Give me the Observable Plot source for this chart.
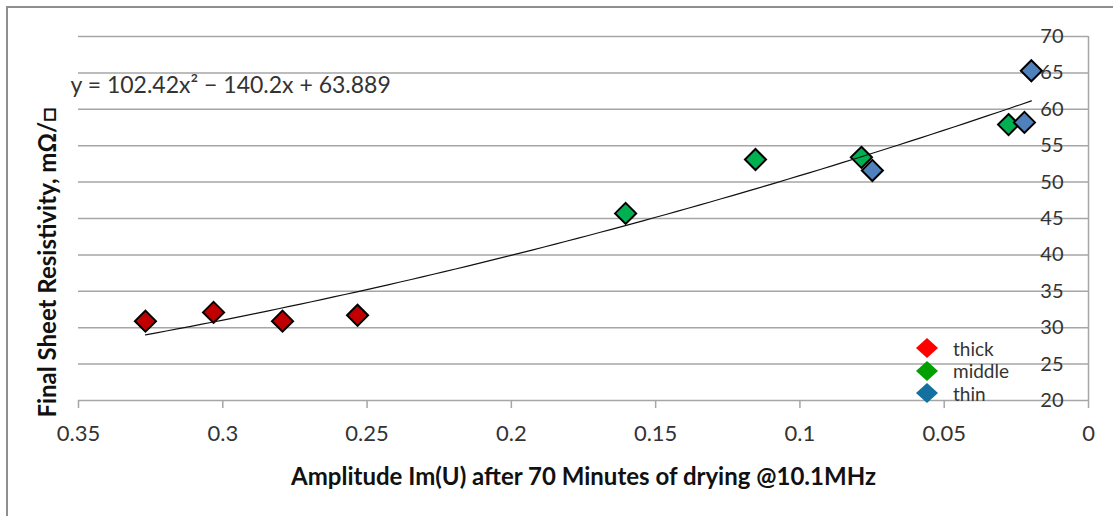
<!DOCTYPE html>
<html>
<head>
<meta charset="utf-8">
<script src="https://cdn.jsdelivr.net/npm/d3@7"></script>
<script src="https://cdn.jsdelivr.net/npm/@observablehq/plot@0.6"></script>
<style>
  body { margin: 0; background: #fff; }
  #chart { position: relative; width: 1113px; height: 516px; overflow: hidden; font-family: Lato, "Open Sans", sans-serif; }
  #chart > svg { position: absolute; left: 0; top: 0; }
  #border { position: absolute; left: 6px; top: 6px; right: 0; bottom: 0; border-left: 2px solid #8f8f8f; border-top: 2px solid #8f8f8f; pointer-events: none; }
  #legend { position: absolute; left: 915px; top: 337px; font-size: 19px; color: #333; }
  #legend .row { display: flex; align-items: center; height: 22.5px; }
  #legend .row svg { display: block; }
  #legend .row span { margin-left: 14px; }
</style>
</head>
<body>
<div id="chart"><div id="border"></div></div>
<script>
// Sample groups (film thickness)
const series = ["thick", "middle", "thin"];
const markerFills = ["#c00000", "#00b050", "#4f81bd"];
const legendFills = ["#ff0000", "#00a000", "#14709e"];

// Amplitude Im(U) after 70 min drying and final sheet resistivity (mΩ/□)
const thickX = [0.3268, 0.3032, 0.2793, 0.2533];
const thickY = [30.9, 32.1, 30.9, 31.7];
const middleX = [0.1604, 0.1154, 0.0787, 0.0277];
const middleY = [45.7, 53.1, 53.4, 57.9];
const thinX = [0.0749, 0.0222, 0.0198];
const thinY = [51.6, 58.2, 65.3];

// Second-order polynomial trend: y = a·x² + b·x + c
const trendCoef = [102.42, -140.2, 63.889];
const equationLabel = "y = 102.42x² − 140.2x + 63.889";

const xTicks = [0.35, 0.3, 0.25, 0.2, 0.15, 0.1, 0.05, 0];
const yTicks = [20, 25, 30, 35, 40, 45, 50, 55, 60, 65, 70];
const xTitle = "Amplitude Im(U) after 70 Minutes of drying @10.1MHz";
const yTitle = "Final Sheet Resistivity, mΩ/□";

const groups = [thickX, middleX, thinX].map((xs, g) =>
  xs.map((x, i) => ({series: series[g], x, y: [thickY, middleY, thinY][g][i]}))
);
const points = groups.flat();

const allX = points.map(d => d.x);
const xLo = d3.min(allX), xHi = d3.max(allX);
const trend = d3.range(0, 81).map(i => {
  const x = xLo + (xHi - xLo) * i / 80;
  return {x, y: trendCoef[0] * x * x + trendCoef[1] * x + trendCoef[2]};
});

const grid = "#a6a6a6";

const plot = Plot.plot({
  width: 1113,
  height: 516,
  marginLeft: 78,
  marginRight: 25,
  marginTop: 36,
  marginBottom: 116,
  style: {fontFamily: "Lato, 'Open Sans', sans-serif", background: "transparent"},
  x: {domain: [0.35, 0]},
  y: {domain: [20, 70]},
  color: {domain: series, range: markerFills},
  marks: [
    Plot.gridY(yTicks, {stroke: grid, strokeOpacity: 1, strokeWidth: 1.5}),
    Plot.ruleX([0], {stroke: grid, strokeWidth: 1.5}),
    Plot.axisX(xTicks, {
      tickSize: 8, tickPadding: 17, stroke: grid, strokeWidth: 1.5, fill: "#333",
      fontSize: 22, tickFormat: d => String(d), label: null
    }),
    Plot.axisY(yTicks, {
      anchor: "right", tickSize: 0, tickPadding: 0, dx: -25, textAnchor: "end",
      fill: "#333", fontSize: 20, label: null
    }),
    Plot.text([xTitle], {
      text: d => d, frameAnchor: "bottom", textAnchor: "middle", lineAnchor: "middle", dy: 77,
      fontWeight: "bold", fontSize: 24, fill: "#111"
    }),
    Plot.text([yTitle], {
      text: d => d, frameAnchor: "left", textAnchor: "middle", lineAnchor: "middle",
      rotate: -90, dx: -30, dy: 44,
      fontWeight: "bold", fontSize: 24, fill: "#111"
    }),
    ...groups.map(g => Plot.dot(g, {
      x: "x", y: "y", symbol: "diamond2", r: 9.5, fill: "series",
      stroke: "black", strokeWidth: 2
    })),
    Plot.line(trend, {x: "x", y: "y", stroke: "#111", strokeWidth: 1.2}),
    Plot.text([equationLabel], {
      text: d => d, frameAnchor: "top-left", textAnchor: "start", lineAnchor: "middle",
      dx: -8, dy: 49, fontSize: 23, fill: "#333"
    })
  ]
});

const chart = document.getElementById("chart");
chart.insertBefore(plot, chart.firstChild);

// Legend inside the plot area, bottom right
const legend = d3.select(chart).append("div").attr("id", "legend");
series.forEach((s, i) => {
  const row = legend.append("div").attr("class", "row");
  row.append("svg").attr("width", 24).attr("height", 22)
    .append("path")
    .attr("d", "M12,1 L23,11 L12,21 L1,11 Z")
    .attr("fill", legendFills[i]);
  row.append("span").text(s);
});
</script>
</body>
</html>
